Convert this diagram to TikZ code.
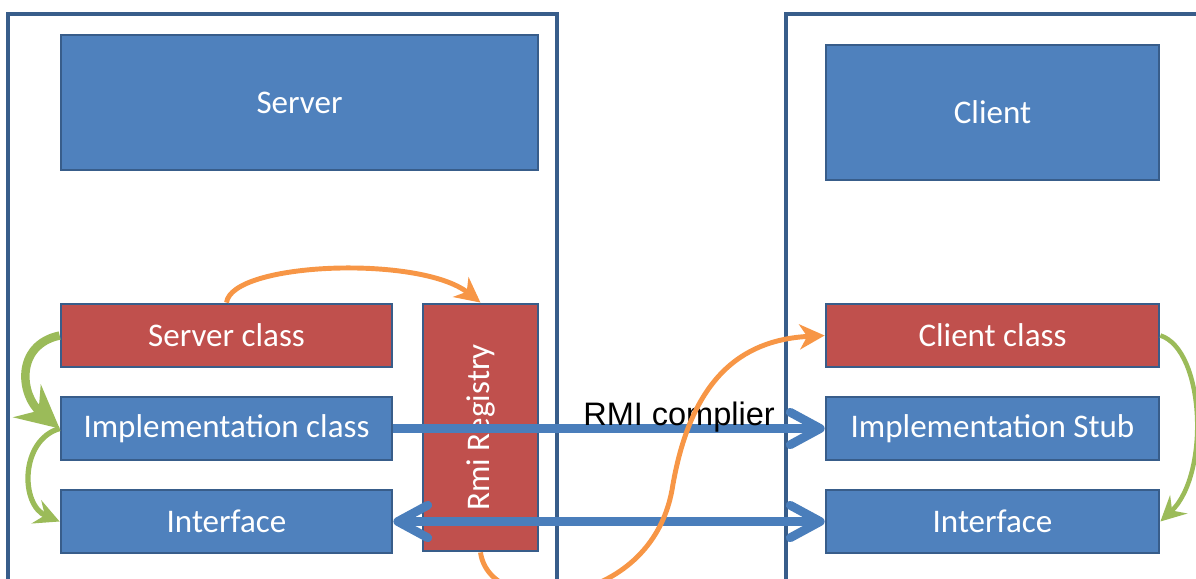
\documentclass[tikz,border=0pt]{standalone}
\usepackage{fontspec}
\setmainfont{Carlito}
\newfontfamily\labelfont{Liberation Sans}
\usepackage{tikz}
\usetikzlibrary{arrows.meta,positioning}

\definecolor{boxblue}{HTML}{4F81BD}
\definecolor{edgeblue}{HTML}{385D8A}
\definecolor{boxred}{HTML}{C0504D}
\definecolor{edgered}{HTML}{8C3836}
\definecolor{arrowblue}{HTML}{4A7EBB}
\definecolor{rmiorange}{HTML}{F79646}
\definecolor{rmigreen}{HTML}{9BBB59}

\begin{document}
\begin{tikzpicture}[
    x=0.02cm, y=-0.02cm,
    font=\fontsize{18.8}{22}\selectfont,
    frame/.style={draw=edgeblue, line width=1.8pt},
    blueBox/.style={
        rectangle, draw=edgeblue, line width=1.6pt, fill=boxblue,
        text=white, inner sep=0pt, minimum height=1.26cm
    },
    redBox/.style={
        rectangle, draw=edgeblue, line width=1.6pt, fill=boxred,
        text=white, inner sep=0pt, minimum height=1.26cm
    },
    call/.style={
        -{Straight Barb[length=6mm, width=6.5mm, round]}, line width=5pt, draw=arrowblue
    },
    bind/.style={
        -{Stealth[length=5mm, width=5mm, inset=1.5mm]}, line width=2.8pt, draw=rmiorange
    },
    uses/.style={
        -{Stealth[length=5mm, width=5mm, inset=1.8mm]}, line width=3pt, draw=rmigreen
    }
]

\useasboundingbox (0,0) rectangle (1196,578);
\clip (0,0) rectangle (1196,578);

% Machines
\draw[frame] (8,600) -- (8,14) -- (557,14) -- (557,600);
\draw[frame] (786,600) -- (786,14) -- (1220,14);

\node[blueBox, minimum width=9.54cm, minimum height=2.7cm] (server) at (299.5,102.5) {Server};
\node[blueBox, minimum width=6.66cm, minimum height=2.7cm] (client) at (992.5,112.5) {Client};

% Server side
\node[redBox, minimum width=6.62cm] (sclass) at (226.5,335.5) {Server class};
\node[blueBox, minimum width=6.62cm] (impl) at (226.5,428.5) {Implementation class};
\node[blueBox, minimum width=6.62cm] (sif) at (226.5,521.5) {Interface};
\node[redBox, minimum width=2.3cm, minimum height=4.94cm] (registry) at (480.5,427.5) {};
\node[text=white, rotate=90] (regtext) at (registry.center) {Rmi Registry};

% Client side
\node[redBox, minimum width=6.66cm] (cclass) at (992.5,335.5) {Client class};
\node[blueBox, minimum width=6.66cm] (stub) at (992.5,428.5) {Implementation Stub};
\node[blueBox, minimum width=6.66cm] (cif) at (992.5,521.5) {Interface};

% Compiler and interface links
\draw[call] (impl.east) -- (stub.west);
\draw[call, {Straight Barb[length=6mm, width=6.5mm, round]}-{Straight Barb[length=6mm, width=6.5mm, round]}] (sif.east) -- (cif.west);
\node[anchor=base, font=\labelfont\fontsize{18.5}{22}\selectfont] (compiler) at (679,425) {RMI complier};

% Usage arrows
\draw[uses, line width=4.8pt, -{Stealth[length=8.5mm, width=8.5mm, inset=3mm]}]
    (sclass.west) .. controls (15,345) and (20,395) .. (impl.west);
\draw[uses] (impl.west) .. controls (20,440) and (20,505) .. (sif.west);
\draw[uses, line width=2.6pt] (cclass.east) .. controls (1205,350) and (1210,475) .. (cif.east);

% Registry binding
\draw[bind] (sclass.north) .. controls (232,262) and (420,255) .. (registry.north);
\draw[bind] (registry.south) .. controls (490,620) and (650,610) .. (672,490)
    .. controls (690,380) and (740,340) .. (cclass.west);

\end{tikzpicture}
\end{document}
